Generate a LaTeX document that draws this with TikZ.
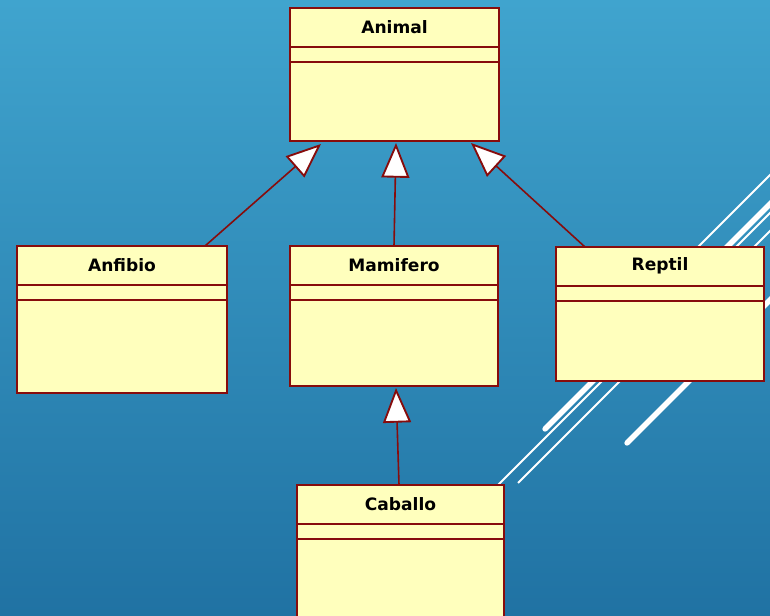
\documentclass[tikz,border=0pt]{standalone}
\usepackage{fontspec}
\setmainfont{DejaVu Sans}
\usetikzlibrary{arrows.meta,calc}
\definecolor{bgtop}{RGB}{64,164,206}
\definecolor{bgbot}{RGB}{32,114,163}
\definecolor{boxfill}{RGB}{255,255,189}
\definecolor{boxline}{RGB}{135,12,12}
\newcommand\umlclass[6]{%
  \node[classbox, minimum width=#4*0.75pt, minimum height=#5*0.75pt, anchor=north west] (#1) at (#2,#3) {};
  \node[ctitle] (#1-t) at ($(#1.north)+(0,19)$) {#6};
  \draw[sepline] ($(#1.north west)+(0,39)$) -- ($(#1.north east)+(1,39)$);
  \draw[sepline] ($(#1.north west)+(0,54)$) -- ($(#1.north east)+(1,54)$);
}
\tikzset{
  classbox/.style={draw=boxline, fill=boxfill, line width=1.6pt, inner sep=0pt, outer sep=0pt},
  ctitle/.style={font=\fontsize{12.8}{14}\selectfont\bfseries, text=black, inner sep=0pt},
  sepline/.style={draw=boxline, line width=1.6pt},
  gen/.style={draw=boxline, line width=1.2pt, -{Triangle[fill=white, length=26pt, width=21pt, line width=1.4pt]}},
  thinw/.style={draw=white, line width=1.4pt},
  thickw/.style={draw=white, line width=4pt, line cap=round}
}
\begin{document}
\begin{tikzpicture}[x=0.75pt, y=-0.75pt]
\useasboundingbox (0,0) rectangle (770,616);
\shade[top color=bgtop, bottom color=bgbot] (0,0) rectangle (770,616);
% white decorative lines
\draw[thickw] (545,429) -- (800,174);
\draw[thickw] (627,443) -- (800,270);
\draw[thinw] (498,485) -- (800,183);
\draw[thinw] (518,483) -- (800,201);
\draw[thinw] (620,325) -- (800,145);
% classes
\umlclass{animal}{290}{8}{209}{133}{Animal}
\umlclass{anfibio}{17}{246}{210}{147}{Anfibio}
\umlclass{mamifero}{290}{246}{208}{140}{Mamifero}
\umlclass{reptil}{556}{247}{208}{134}{Reptil}
\umlclass{caballo}{297}{485}{207}{150}{Caballo}
% generalizations
\coordinate (tipL) at ($(animal.south west)+(31,3)$);
\coordinate (tipM) at ($(animal.south west)+(106,2)$);
\coordinate (tipR) at ($(animal.south west)+(181,2)$);
\coordinate (tipC) at ($(mamifero.south west)+(106,2)$);
\draw[gen] ($(anfibio.north west)+(188,0)$) -- (tipL);
\draw[gen] ($(mamifero.north west)+(104,0)$) -- (tipM);
\draw[gen] ($(reptil.north west)+(29,0)$) -- (tipR);
\draw[gen] ($(caballo.north west)+(102,0)$) -- (tipC);
\end{tikzpicture}
\end{document}
